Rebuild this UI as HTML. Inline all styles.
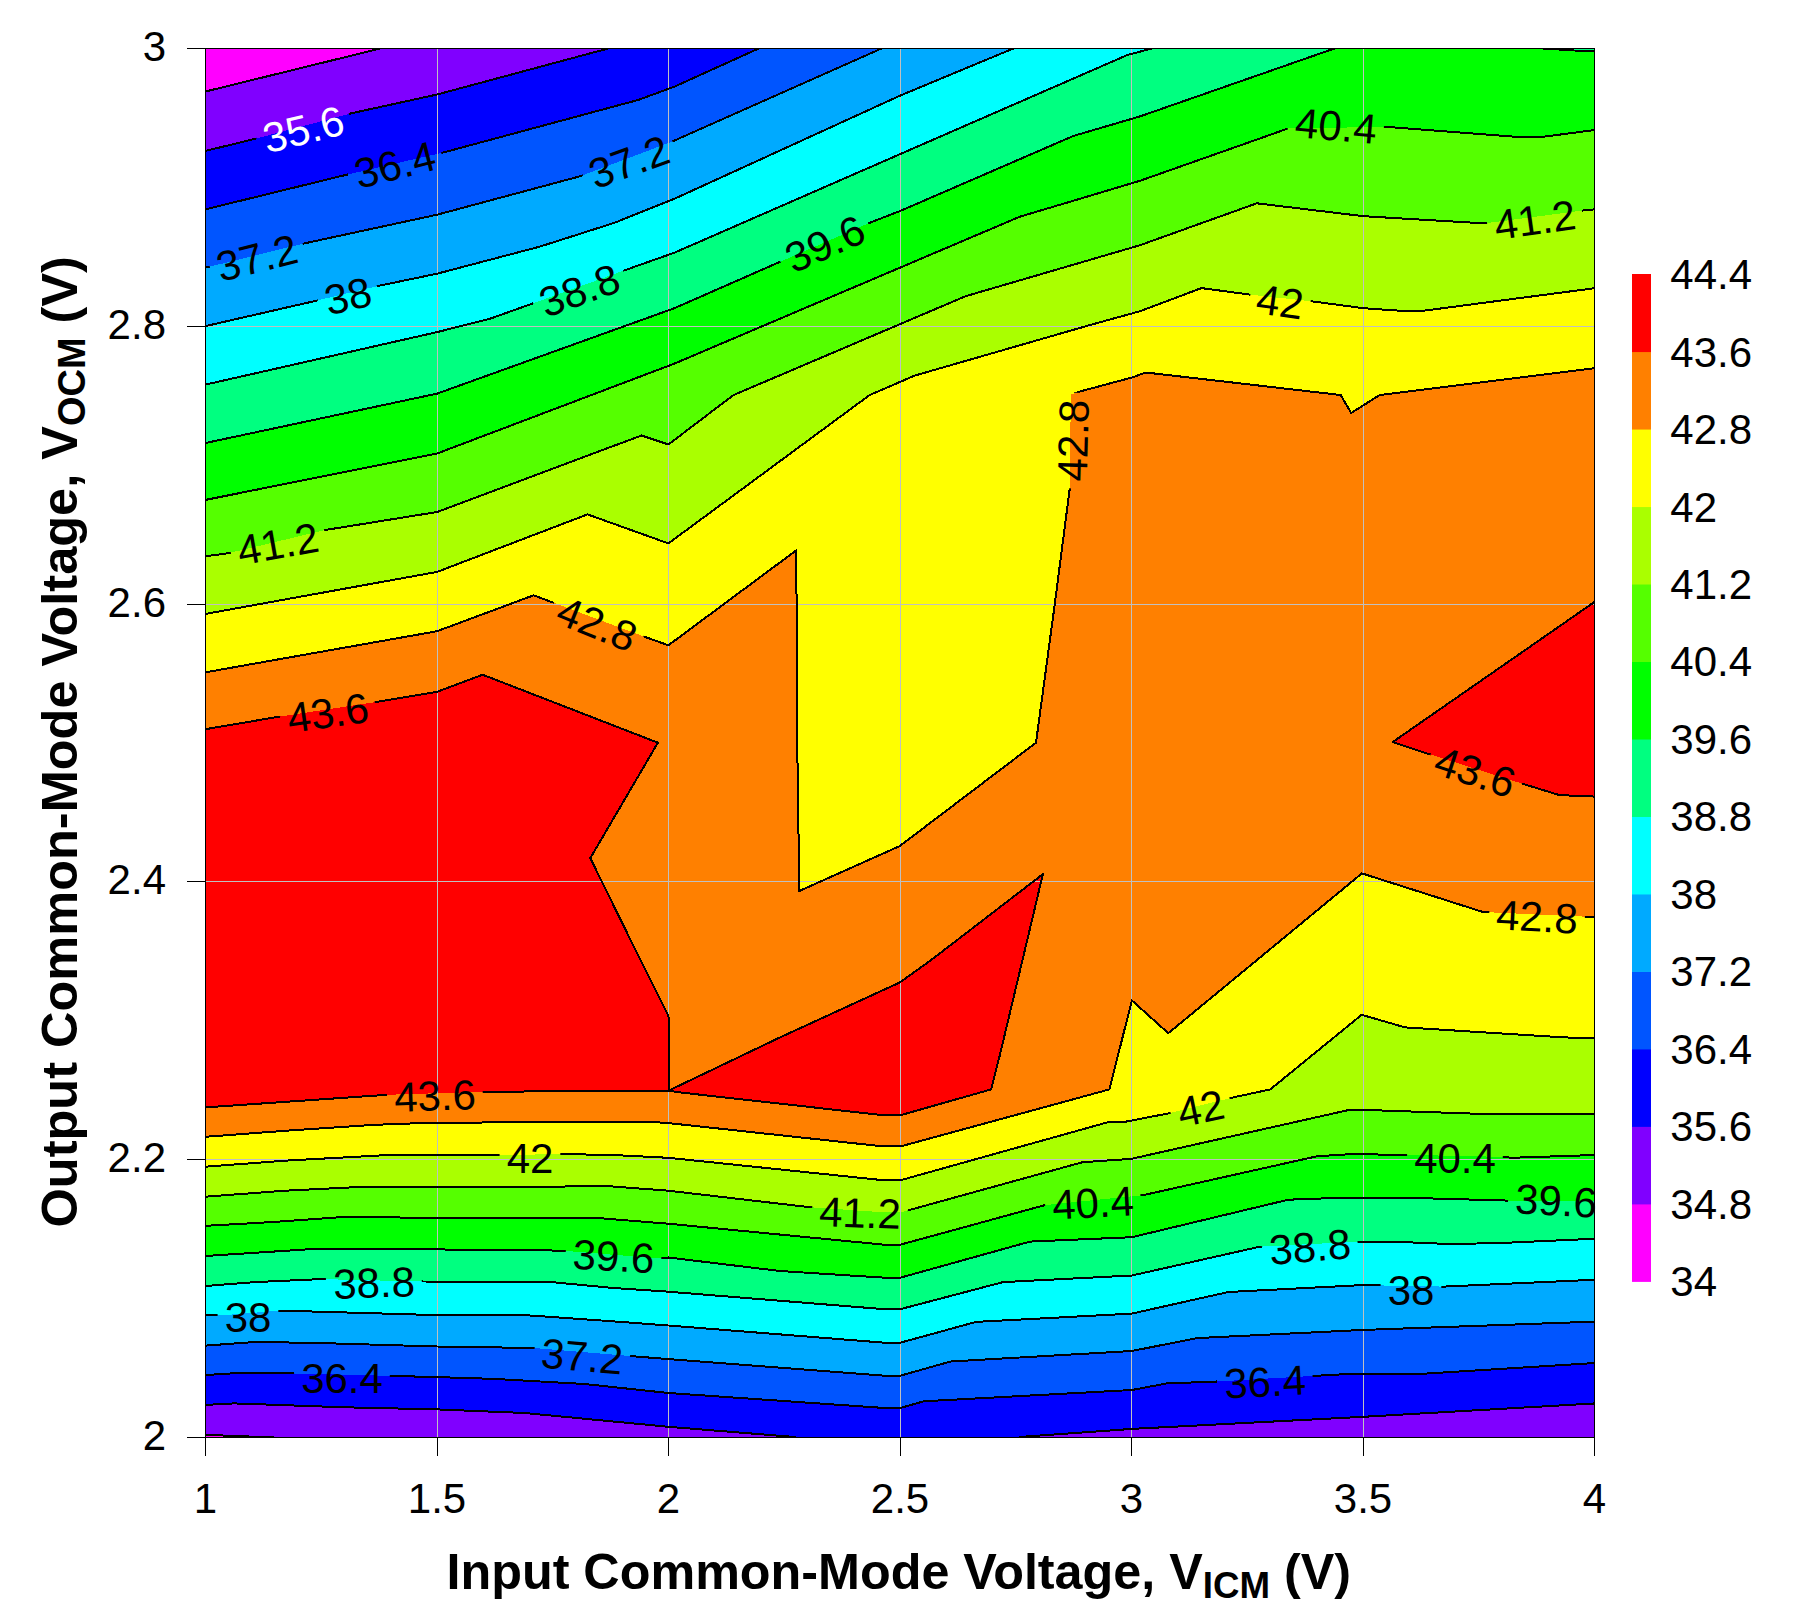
<!DOCTYPE html><html><head><meta charset="utf-8"><style>html,body{margin:0;padding:0;background:#fff;}svg{display:block;}text{font-family:"Liberation Sans",Arial,sans-serif;}</style></head><body>
<svg width="1818" height="1602" viewBox="0 0 1818 1602">
<defs><clipPath id="pc"><rect x="205.5" y="48.5" width="1389.0" height="1389.0"/></clipPath>
<mask id="lm" maskUnits="userSpaceOnUse" x="0" y="0" width="1818" height="1602">
<rect x="0" y="0" width="1818" height="1602" fill="#fff"/>
<rect x="255.6" y="112.7" width="95.7" height="33.6" fill="#000" transform="rotate(-14.0 303.5 129.5)"/>
<rect x="347.1" y="148.2" width="95.7" height="33.6" fill="#000" transform="rotate(-14.0 395.0 165.0)"/>
<rect x="581.1" y="145.2" width="95.7" height="33.6" fill="#000" transform="rotate(-20.0 629.0 162.0)"/>
<rect x="209.1" y="241.2" width="95.7" height="33.6" fill="#000" transform="rotate(-14.0 257.0 258.0)"/>
<rect x="317.6" y="279.2" width="60.7" height="33.6" fill="#000" transform="rotate(-13.0 348.0 296.0)"/>
<rect x="531.6" y="273.7" width="95.7" height="33.6" fill="#000" transform="rotate(-20.0 579.5 290.5)"/>
<rect x="777.1" y="227.2" width="95.7" height="33.6" fill="#000" transform="rotate(-24.0 825.0 244.0)"/>
<rect x="1288.1" y="109.2" width="95.7" height="33.6" fill="#000" transform="rotate(5.0 1336.0 126.0)"/>
<rect x="1487.1" y="203.2" width="95.7" height="33.6" fill="#000" transform="rotate(-8.0 1535.0 220.0)"/>
<rect x="1249.6" y="285.2" width="60.7" height="33.6" fill="#000" transform="rotate(8.0 1280.0 302.0)"/>
<rect x="230.1" y="527.2" width="95.7" height="33.6" fill="#000" transform="rotate(-10.0 278.0 544.0)"/>
<rect x="1025.4" y="423.7" width="95.7" height="33.6" fill="#000" transform="rotate(-88.5 1073.3 440.5)"/>
<rect x="549.1" y="607.2" width="95.7" height="33.6" fill="#000" transform="rotate(22.0 597.0 624.0)"/>
<rect x="280.1" y="696.2" width="95.7" height="33.6" fill="#000" transform="rotate(-8.0 328.0 713.0)"/>
<rect x="1427.3" y="755.2" width="95.7" height="33.6" fill="#000" transform="rotate(18.0 1475.2 772.0)"/>
<rect x="1489.1" y="900.2" width="95.7" height="33.6" fill="#000" transform="rotate(3.0 1537.0 917.0)"/>
<rect x="387.1" y="1079.2" width="95.7" height="33.6" fill="#000" transform="rotate(-2.0 435.0 1096.0)"/>
<rect x="1170.4" y="1091.7" width="60.7" height="33.6" fill="#000" transform="rotate(-12.0 1200.8 1108.5)"/>
<rect x="499.6" y="1141.2" width="60.7" height="33.6" fill="#000" transform="rotate(0.0 530.0 1158.0)"/>
<rect x="1407.1" y="1141.2" width="95.7" height="33.6" fill="#000" transform="rotate(0.0 1455.0 1158.0)"/>
<rect x="812.1" y="1196.2" width="95.7" height="33.6" fill="#000" transform="rotate(2.0 860.0 1213.0)"/>
<rect x="1045.1" y="1186.2" width="95.7" height="33.6" fill="#000" transform="rotate(-3.0 1093.0 1203.0)"/>
<rect x="1508.1" y="1184.2" width="95.7" height="33.6" fill="#000" transform="rotate(3.0 1556.0 1201.0)"/>
<rect x="565.6" y="1239.7" width="95.7" height="33.6" fill="#000" transform="rotate(3.0 613.5 1256.5)"/>
<rect x="1262.1" y="1230.2" width="95.7" height="33.6" fill="#000" transform="rotate(-5.0 1310.0 1247.0)"/>
<rect x="326.1" y="1266.2" width="95.7" height="33.6" fill="#000" transform="rotate(-2.0 374.0 1283.0)"/>
<rect x="217.6" y="1300.2" width="60.7" height="33.6" fill="#000" transform="rotate(0.0 248.0 1317.0)"/>
<rect x="1380.6" y="1273.2" width="60.7" height="33.6" fill="#000" transform="rotate(0.0 1411.0 1290.0)"/>
<rect x="534.1" y="1339.7" width="95.7" height="33.6" fill="#000" transform="rotate(5.0 582.0 1356.5)"/>
<rect x="294.1" y="1361.2" width="95.7" height="33.6" fill="#000" transform="rotate(0.0 342.0 1378.0)"/>
<rect x="1217.1" y="1365.2" width="95.7" height="33.6" fill="#000" transform="rotate(-3.0 1265.0 1382.0)"/>
</mask></defs>
<g clip-path="url(#pc)" shape-rendering="crispEdges">
<rect x="205.5" y="48.5" width="1389.0" height="1389.0" fill="#FF00FF"/>
<polygon points="195.5,1434.9 205.5,1434.9 231.0,1435.8 275.9,1437.6 276.0,1445.0 1600.0,1445.0 1604.5,1445.0 1604.5,40.0 1600.0,40.0 384.0,40.0 380.8,48.4 205.5,91.5 195.5,91.5" fill="#8000FF"/>
<polygon points="195.5,1404.9 205.5,1404.9 234.0,1403.4 344.8,1407.3 437.1,1409.4 524.6,1413.0 668.4,1426.8 794.8,1437.0 795.0,1445.0 1019.0,1445.0 1019.6,1437.0 1131.9,1428.9 1361.7,1416.9 1595.4,1403.4 1604.5,1403.4 1604.5,40.0 1600.0,40.0 609.0,40.0 608.5,48.4 437.1,94.5 350.8,113.4 254.9,138.9 205.5,150.9 195.5,150.9" fill="#0000FF"/>
<polygon points="195.5,1375.0 205.5,1375.0 239.9,1372.9 293.9,1373.5 391.3,1375.9 437.1,1377.1 494.6,1378.9 584.5,1384.0 668.4,1393.0 883.2,1407.9 900.6,1407.9 923.7,1401.3 1131.9,1390.0 1166.9,1383.4 1214.9,1381.6 1313.8,1375.9 1346.7,1374.1 1417.1,1374.1 1595.4,1363.0 1604.5,1363.0 1604.5,40.0 1600.0,40.0 759.0,40.0 758.9,48.4 675.0,86.4 638.4,99.9 443.7,152.4 346.3,174.8 205.5,209.3 195.5,209.3" fill="#0055FF"/>
<polygon points="195.5,1345.6 205.5,1345.6 254.9,1342.0 314.9,1342.9 437.1,1346.5 533.6,1348.0 631.0,1356.1 668.4,1359.1 883.2,1375.6 900.6,1375.6 950.6,1361.5 1131.9,1351.0 1196.9,1338.1 1361.7,1330.0 1595.4,1321.6 1604.5,1321.6 1604.5,40.0 1600.0,40.0 882.0,40.0 881.7,48.4 671.4,141.9 580.0,176.3 437.1,214.7 302.9,243.7 205.5,267.7 195.5,267.7" fill="#00AAFF"/>
<polygon points="195.5,1315.1 205.5,1315.1 225.0,1315.1 280.4,1310.6 437.1,1315.1 524.6,1315.1 608.5,1321.0 668.4,1325.5 883.2,1342.6 900.6,1342.6 976.1,1321.9 1131.9,1313.6 1228.4,1292.0 1361.7,1285.1 1444.1,1286.6 1595.4,1279.7 1604.5,1279.7 1604.5,40.0 1600.0,40.0 1014.0,40.0 1013.6,48.4 900.6,95.4 674.4,198.8 614.5,222.8 539.6,246.7 437.1,273.7 379.3,285.7 316.3,300.7 205.5,326.1 195.5,326.1" fill="#00FFFF"/>
<polygon points="195.5,1286.0 205.5,1286.0 254.9,1282.1 320.8,1279.1 422.7,1281.5 551.6,1282.1 614.5,1288.1 668.4,1291.7 883.2,1309.1 900.6,1309.1 1003.1,1282.1 1131.9,1275.5 1259.8,1246.7 1358.7,1241.6 1405.1,1242.2 1448.6,1244.0 1499.5,1243.1 1595.4,1238.7 1604.5,1238.7 1604.5,40.0 1600.0,40.0 1152.0,40.0 1152.0,48.4 1127.4,55.0 900.6,153.9 674.4,252.7 623.5,270.7 532.1,303.7 490.1,318.7 437.1,332.1 205.5,384.6 195.5,384.6" fill="#00FF80"/>
<polygon points="195.5,1256.0 205.5,1256.0 320.8,1248.5 401.7,1249.1 562.0,1250.6 654.9,1258.1 668.4,1257.5 779.9,1271.0 883.2,1277.6 900.6,1277.6 1030.0,1241.6 1131.9,1237.2 1288.3,1199.7 1346.7,1197.6 1400.7,1197.6 1508.5,1200.6 1595.4,1201.2 1604.5,1201.2 1604.5,51.4 1595.4,51.4 1574.4,50.5 1541.5,48.4 1541.0,40.0 1335.0,40.0 1334.7,48.4 1140.0,116.4 1073.5,135.9 900.6,210.8 869.7,222.8 776.9,263.2 674.4,308.2 437.1,393.6 205.5,443.0 195.5,443.0" fill="#00FF00"/>
<polygon points="195.5,1225.8 205.5,1225.8 269.9,1222.2 341.8,1217.1 380.8,1217.1 437.1,1218.3 509.6,1217.7 593.5,1217.7 668.4,1223.7 883.2,1244.6 900.6,1244.6 1045.0,1205.1 1143.0,1195.2 1316.8,1156.3 1349.7,1154.2 1405.1,1154.8 1504.0,1156.9 1511.5,1157.8 1583.4,1155.4 1595.4,1155.4 1604.5,1155.4 1604.5,129.9 1595.4,129.9 1538.5,137.4 1523.5,137.4 1387.2,126.9 1288.3,128.4 1140.0,180.8 1019.6,216.8 674.4,363.6 437.1,453.5 205.5,499.9 195.5,499.9" fill="#55FF00"/>
<polygon points="195.5,1196.7 205.5,1196.7 284.9,1190.7 362.8,1186.8 437.1,1186.8 524.6,1186.8 608.5,1186.2 668.4,1190.7 809.8,1207.2 883.2,1212.3 900.6,1212.3 908.7,1210.2 1082.5,1162.2 1131.0,1158.9 1349.7,1109.8 1361.7,1109.8 1405.1,1111.3 1493.5,1114.3 1595.4,1114.3 1604.5,1114.3 1604.5,209.3 1595.4,209.3 1584.9,210.2 1484.6,223.4 1363.5,216.2 1256.8,203.3 1140.0,245.2 965.6,296.2 733.4,395.1 668.4,444.5 641.4,435.5 437.1,512.0 325.3,530.0 228.0,553.3 205.5,556.3 195.5,556.3" fill="#AAFF00"/>
<polygon points="195.5,1166.7 205.5,1166.7 284.9,1160.7 380.8,1155.4 496.1,1155.4 562.0,1153.9 620.5,1155.4 668.4,1157.8 883.2,1180.2 900.6,1180.2 1109.4,1121.8 1125.0,1121.8 1168.4,1113.4 1231.4,1097.8 1270.3,1089.4 1361.7,1014.8 1405.1,1027.4 1562.5,1037.3 1595.4,1038.5 1604.5,1038.5 1604.5,288.1 1595.4,288.1 1424.6,310.6 1406.6,311.2 1363.5,308.2 1313.8,301.6 1250.8,294.7 1201.4,288.1 1140.0,311.2 1091.5,324.6 914.7,375.6 869.7,395.0 668.4,543.4 587.5,514.4 437.1,571.9 205.5,613.9 195.5,613.9" fill="#FFFF00"/>
<polygon points="195.5,1136.8 205.5,1136.8 284.9,1130.8 374.8,1124.8 415.2,1123.3 542.6,1121.8 653.4,1122.4 657.4,1122.3 668.6,1123.1 883.2,1146.4 900.6,1146.4 1109.4,1089.4 1131.9,1000.4 1168.3,1033.2 1361.9,873.4 1483.0,912.0 1595.4,917.1 1604.5,917.1 1604.5,368.1 1595.4,368.1 1379.7,395.0 1351.2,413.0 1340.7,395.0 1145.8,372.5 1132.0,377.5 1080.9,391.2 1070.9,394.4 1069.6,489.8 1054.7,604.7 1036.0,742.7 899.7,846.1 799.3,891.0 797.2,739.7 796.3,550.3 668.4,645.3 647.4,637.8 533.6,595.3 437.1,631.2 205.5,672.3 195.5,672.3" fill="#FF8000"/>
<polygon points="205.5,729.2 275.9,717.2 374.8,702.2 437.1,691.8 482.6,674.7 657.9,742.7 590.3,858.1 635.5,950.0 630.6,940.0 668.0,1014.9 668.9,1018.0 668.9,1090.5 482.6,1091.8 386.8,1094.8 205.5,1107.4" fill="#FF0000"/>
<polygon points="668.9,1090.5 780.0,1037.4 899.7,982.5 931.2,960.0 1042.9,874.1 1022.5,960.0 1000.0,1054.5 991.1,1089.4 900.6,1115.2 883.2,1115.2 676.1,1092.0" fill="#FF0000"/>
<polygon points="1595.4,601.3 1392.6,742.1 1429.1,754.1 1520.5,783.1 1559.5,795.1 1595.4,796.6" fill="#FF0000"/>
<line x1="437.5" y1="48.5" x2="437.5" y2="1437.5" stroke="#C0C0C0" stroke-width="1"/>
<line x1="668.5" y1="48.5" x2="668.5" y2="1437.5" stroke="#C0C0C0" stroke-width="1"/>
<line x1="900.5" y1="48.5" x2="900.5" y2="1437.5" stroke="#C0C0C0" stroke-width="1"/>
<line x1="1131.5" y1="48.5" x2="1131.5" y2="1437.5" stroke="#C0C0C0" stroke-width="1"/>
<line x1="1363.5" y1="48.5" x2="1363.5" y2="1437.5" stroke="#C0C0C0" stroke-width="1"/>
<line x1="205.5" y1="326.5" x2="1594.5" y2="326.5" stroke="#C0C0C0" stroke-width="1"/>
<line x1="205.5" y1="604.5" x2="1594.5" y2="604.5" stroke="#C0C0C0" stroke-width="1"/>
<line x1="205.5" y1="881.5" x2="1594.5" y2="881.5" stroke="#C0C0C0" stroke-width="1"/>
<line x1="205.5" y1="1159.5" x2="1594.5" y2="1159.5" stroke="#C0C0C0" stroke-width="1"/>
<g mask="url(#lm)" fill="none" stroke="#000" stroke-width="2" stroke-linejoin="round" shape-rendering="crispEdges">
<polyline points="195.5,91.5 205.5,91.5 380.8,48.4 384.0,40.0 1600.0,40.0 1604.5,40.0"/>
<polyline points="195.5,1434.9 205.5,1434.9 231.0,1435.8 275.9,1437.6 276.0,1445.0 1600.0,1445.0 1604.5,1445.0"/>
<polyline points="195.5,150.9 205.5,150.9 254.9,138.9 350.8,113.4 437.1,94.5 608.5,48.4 609.0,40.0 1600.0,40.0 1604.5,40.0"/>
<polyline points="195.5,1404.9 205.5,1404.9 234.0,1403.4 344.8,1407.3 437.1,1409.4 524.6,1413.0 668.4,1426.8 794.8,1437.0 795.0,1445.0 1019.0,1445.0 1019.6,1437.0 1131.9,1428.9 1361.7,1416.9 1595.4,1403.4 1604.5,1403.4"/>
<polyline points="195.5,209.3 205.5,209.3 346.3,174.8 443.7,152.4 638.4,99.9 675.0,86.4 758.9,48.4 759.0,40.0 1600.0,40.0 1604.5,40.0"/>
<polyline points="195.5,1375.0 205.5,1375.0 239.9,1372.9 293.9,1373.5 391.3,1375.9 437.1,1377.1 494.6,1378.9 584.5,1384.0 668.4,1393.0 883.2,1407.9 900.6,1407.9 923.7,1401.3 1131.9,1390.0 1166.9,1383.4 1214.9,1381.6 1313.8,1375.9 1346.7,1374.1 1417.1,1374.1 1595.4,1363.0 1604.5,1363.0"/>
<polyline points="195.5,267.7 205.5,267.7 302.9,243.7 437.1,214.7 580.0,176.3 671.4,141.9 881.7,48.4 882.0,40.0 1600.0,40.0 1604.5,40.0"/>
<polyline points="195.5,1345.6 205.5,1345.6 254.9,1342.0 314.9,1342.9 437.1,1346.5 533.6,1348.0 631.0,1356.1 668.4,1359.1 883.2,1375.6 900.6,1375.6 950.6,1361.5 1131.9,1351.0 1196.9,1338.1 1361.7,1330.0 1595.4,1321.6 1604.5,1321.6"/>
<polyline points="195.5,326.1 205.5,326.1 316.3,300.7 379.3,285.7 437.1,273.7 539.6,246.7 614.5,222.8 674.4,198.8 900.6,95.4 1013.6,48.4 1014.0,40.0 1600.0,40.0 1604.5,40.0"/>
<polyline points="195.5,1315.1 205.5,1315.1 225.0,1315.1 280.4,1310.6 437.1,1315.1 524.6,1315.1 608.5,1321.0 668.4,1325.5 883.2,1342.6 900.6,1342.6 976.1,1321.9 1131.9,1313.6 1228.4,1292.0 1361.7,1285.1 1444.1,1286.6 1595.4,1279.7 1604.5,1279.7"/>
<polyline points="195.5,384.6 205.5,384.6 437.1,332.1 490.1,318.7 532.1,303.7 623.5,270.7 674.4,252.7 900.6,153.9 1127.4,55.0 1152.0,48.4 1152.0,40.0 1600.0,40.0 1604.5,40.0"/>
<polyline points="195.5,1286.0 205.5,1286.0 254.9,1282.1 320.8,1279.1 422.7,1281.5 551.6,1282.1 614.5,1288.1 668.4,1291.7 883.2,1309.1 900.6,1309.1 1003.1,1282.1 1131.9,1275.5 1259.8,1246.7 1358.7,1241.6 1405.1,1242.2 1448.6,1244.0 1499.5,1243.1 1595.4,1238.7 1604.5,1238.7"/>
<polyline points="195.5,443.0 205.5,443.0 437.1,393.6 674.4,308.2 776.9,263.2 869.7,222.8 900.6,210.8 1073.5,135.9 1140.0,116.4 1334.7,48.4 1335.0,40.0 1541.0,40.0 1541.5,48.4 1574.4,50.5 1595.4,51.4 1604.5,51.4"/>
<polyline points="195.5,1256.0 205.5,1256.0 320.8,1248.5 401.7,1249.1 562.0,1250.6 654.9,1258.1 668.4,1257.5 779.9,1271.0 883.2,1277.6 900.6,1277.6 1030.0,1241.6 1131.9,1237.2 1288.3,1199.7 1346.7,1197.6 1400.7,1197.6 1508.5,1200.6 1595.4,1201.2 1604.5,1201.2"/>
<polyline points="195.5,499.9 205.5,499.9 437.1,453.5 674.4,363.6 1019.6,216.8 1140.0,180.8 1288.3,128.4 1387.2,126.9 1523.5,137.4 1538.5,137.4 1595.4,129.9 1604.5,129.9"/>
<polyline points="195.5,1225.8 205.5,1225.8 269.9,1222.2 341.8,1217.1 380.8,1217.1 437.1,1218.3 509.6,1217.7 593.5,1217.7 668.4,1223.7 883.2,1244.6 900.6,1244.6 1045.0,1205.1 1143.0,1195.2 1316.8,1156.3 1349.7,1154.2 1405.1,1154.8 1504.0,1156.9 1511.5,1157.8 1583.4,1155.4 1595.4,1155.4 1604.5,1155.4"/>
<polyline points="195.5,556.3 205.5,556.3 228.0,553.3 325.3,530.0 437.1,512.0 641.4,435.5 668.4,444.5 733.4,395.1 965.6,296.2 1140.0,245.2 1256.8,203.3 1363.5,216.2 1484.6,223.4 1584.9,210.2 1595.4,209.3 1604.5,209.3"/>
<polyline points="195.5,1196.7 205.5,1196.7 284.9,1190.7 362.8,1186.8 437.1,1186.8 524.6,1186.8 608.5,1186.2 668.4,1190.7 809.8,1207.2 883.2,1212.3 900.6,1212.3 908.7,1210.2 1082.5,1162.2 1131.0,1158.9 1349.7,1109.8 1361.7,1109.8 1405.1,1111.3 1493.5,1114.3 1595.4,1114.3 1604.5,1114.3"/>
<polyline points="195.5,613.9 205.5,613.9 437.1,571.9 587.5,514.4 668.4,543.4 869.7,395.0 914.7,375.6 1091.5,324.6 1140.0,311.2 1201.4,288.1 1250.8,294.7 1313.8,301.6 1363.5,308.2 1406.6,311.2 1424.6,310.6 1595.4,288.1 1604.5,288.1"/>
<polyline points="195.5,1166.7 205.5,1166.7 284.9,1160.7 380.8,1155.4 496.1,1155.4 562.0,1153.9 620.5,1155.4 668.4,1157.8 883.2,1180.2 900.6,1180.2 1109.4,1121.8 1125.0,1121.8 1168.4,1113.4 1231.4,1097.8 1270.3,1089.4 1361.7,1014.8 1405.1,1027.4 1562.5,1037.3 1595.4,1038.5 1604.5,1038.5"/>
<polyline points="195.5,672.3 205.5,672.3 437.1,631.2 533.6,595.3 647.4,637.8 668.4,645.3 796.3,550.3 797.2,739.7 799.3,891.0 899.7,846.1 1036.0,742.7 1054.7,604.7 1069.6,489.8 1070.9,394.4 1080.9,391.2 1132.0,377.5 1145.8,372.5 1340.7,395.0 1351.2,413.0 1379.7,395.0 1595.4,368.1 1604.5,368.1"/>
<polyline points="195.5,1136.8 205.5,1136.8 284.9,1130.8 374.8,1124.8 415.2,1123.3 542.6,1121.8 653.4,1122.4 657.4,1122.3 668.6,1123.1 883.2,1146.4 900.6,1146.4 1109.4,1089.4 1131.9,1000.4 1168.3,1033.2 1361.9,873.4 1483.0,912.0 1595.4,917.1 1604.5,917.1"/>
<polyline points="205.5,729.2 275.9,717.2 374.8,702.2 437.1,691.8 482.6,674.7 657.9,742.7 590.3,858.1 635.5,950.0 630.6,940.0 668.0,1014.9 668.9,1018.0 668.9,1090.5 482.6,1091.8 386.8,1094.8 205.5,1107.4"/>
<polygon points="668.9,1090.5 780.0,1037.4 899.7,982.5 931.2,960.0 1042.9,874.1 1022.5,960.0 1000.0,1054.5 991.1,1089.4 900.6,1115.2 883.2,1115.2 676.1,1092.0"/>
<polyline points="1595.4,601.3 1392.6,742.1 1429.1,754.1 1520.5,783.1 1559.5,795.1 1595.4,796.6"/>
</g>
</g>
<text x="303.5" y="129.5" font-size="42.0" fill="#FFFFFF" text-anchor="middle" dominant-baseline="central" transform="rotate(-14.0 303.5 129.5)">35.6</text>
<text x="395.0" y="165.0" font-size="42.0" fill="#000" text-anchor="middle" dominant-baseline="central" transform="rotate(-14.0 395.0 165.0)">36.4</text>
<text x="629.0" y="162.0" font-size="42.0" fill="#000" text-anchor="middle" dominant-baseline="central" transform="rotate(-20.0 629.0 162.0)">37.2</text>
<text x="257.0" y="258.0" font-size="42.0" fill="#000" text-anchor="middle" dominant-baseline="central" transform="rotate(-14.0 257.0 258.0)">37.2</text>
<text x="348.0" y="296.0" font-size="42.0" fill="#000" text-anchor="middle" dominant-baseline="central" transform="rotate(-13.0 348.0 296.0)">38</text>
<text x="579.5" y="290.5" font-size="42.0" fill="#000" text-anchor="middle" dominant-baseline="central" transform="rotate(-20.0 579.5 290.5)">38.8</text>
<text x="825.0" y="244.0" font-size="42.0" fill="#000" text-anchor="middle" dominant-baseline="central" transform="rotate(-24.0 825.0 244.0)">39.6</text>
<text x="1336.0" y="126.0" font-size="42.0" fill="#000" text-anchor="middle" dominant-baseline="central" transform="rotate(5.0 1336.0 126.0)">40.4</text>
<text x="1535.0" y="220.0" font-size="42.0" fill="#000" text-anchor="middle" dominant-baseline="central" transform="rotate(-8.0 1535.0 220.0)">41.2</text>
<text x="1280.0" y="302.0" font-size="42.0" fill="#000" text-anchor="middle" dominant-baseline="central" transform="rotate(8.0 1280.0 302.0)">42</text>
<text x="278.0" y="544.0" font-size="42.0" fill="#000" text-anchor="middle" dominant-baseline="central" transform="rotate(-10.0 278.0 544.0)">41.2</text>
<text x="1073.3" y="440.5" font-size="42.0" fill="#000" text-anchor="middle" dominant-baseline="central" transform="rotate(-88.5 1073.3 440.5)">42.8</text>
<text x="597.0" y="624.0" font-size="42.0" fill="#000" text-anchor="middle" dominant-baseline="central" transform="rotate(22.0 597.0 624.0)">42.8</text>
<text x="328.0" y="713.0" font-size="42.0" fill="#000" text-anchor="middle" dominant-baseline="central" transform="rotate(-8.0 328.0 713.0)">43.6</text>
<text x="1475.2" y="772.0" font-size="42.0" fill="#000" text-anchor="middle" dominant-baseline="central" transform="rotate(18.0 1475.2 772.0)">43.6</text>
<text x="1537.0" y="917.0" font-size="42.0" fill="#000" text-anchor="middle" dominant-baseline="central" transform="rotate(3.0 1537.0 917.0)">42.8</text>
<text x="435.0" y="1096.0" font-size="42.0" fill="#000" text-anchor="middle" dominant-baseline="central" transform="rotate(-2.0 435.0 1096.0)">43.6</text>
<text x="1200.8" y="1108.5" font-size="42.0" fill="#000" text-anchor="middle" dominant-baseline="central" transform="rotate(-12.0 1200.8 1108.5)">42</text>
<text x="530.0" y="1158.0" font-size="42.0" fill="#000" text-anchor="middle" dominant-baseline="central" transform="rotate(0.0 530.0 1158.0)">42</text>
<text x="1455.0" y="1158.0" font-size="42.0" fill="#000" text-anchor="middle" dominant-baseline="central" transform="rotate(0.0 1455.0 1158.0)">40.4</text>
<text x="860.0" y="1213.0" font-size="42.0" fill="#000" text-anchor="middle" dominant-baseline="central" transform="rotate(2.0 860.0 1213.0)">41.2</text>
<text x="1093.0" y="1203.0" font-size="42.0" fill="#000" text-anchor="middle" dominant-baseline="central" transform="rotate(-3.0 1093.0 1203.0)">40.4</text>
<text x="1556.0" y="1201.0" font-size="42.0" fill="#000" text-anchor="middle" dominant-baseline="central" transform="rotate(3.0 1556.0 1201.0)">39.6</text>
<text x="613.5" y="1256.5" font-size="42.0" fill="#000" text-anchor="middle" dominant-baseline="central" transform="rotate(3.0 613.5 1256.5)">39.6</text>
<text x="1310.0" y="1247.0" font-size="42.0" fill="#000" text-anchor="middle" dominant-baseline="central" transform="rotate(-5.0 1310.0 1247.0)">38.8</text>
<text x="374.0" y="1283.0" font-size="42.0" fill="#000" text-anchor="middle" dominant-baseline="central" transform="rotate(-2.0 374.0 1283.0)">38.8</text>
<text x="248.0" y="1317.0" font-size="42.0" fill="#000" text-anchor="middle" dominant-baseline="central" transform="rotate(0.0 248.0 1317.0)">38</text>
<text x="1411.0" y="1290.0" font-size="42.0" fill="#000" text-anchor="middle" dominant-baseline="central" transform="rotate(0.0 1411.0 1290.0)">38</text>
<text x="582.0" y="1356.5" font-size="42.0" fill="#000" text-anchor="middle" dominant-baseline="central" transform="rotate(5.0 582.0 1356.5)">37.2</text>
<text x="342.0" y="1378.0" font-size="42.0" fill="#000" text-anchor="middle" dominant-baseline="central" transform="rotate(0.0 342.0 1378.0)">36.4</text>
<text x="1265.0" y="1382.0" font-size="42.0" fill="#000" text-anchor="middle" dominant-baseline="central" transform="rotate(-3.0 1265.0 1382.0)">36.4</text>
<rect x="205.5" y="48.5" width="1389.0" height="1389.0" fill="none" stroke="#000" stroke-width="1"/>
<line x1="205.5" y1="1437.5" x2="205.5" y2="1456.0" stroke="#000" stroke-width="1"/>
<line x1="437.5" y1="1437.5" x2="437.5" y2="1456.0" stroke="#000" stroke-width="1"/>
<line x1="668.5" y1="1437.5" x2="668.5" y2="1456.0" stroke="#000" stroke-width="1"/>
<line x1="900.5" y1="1437.5" x2="900.5" y2="1456.0" stroke="#000" stroke-width="1"/>
<line x1="1131.5" y1="1437.5" x2="1131.5" y2="1456.0" stroke="#000" stroke-width="1"/>
<line x1="1363.5" y1="1437.5" x2="1363.5" y2="1456.0" stroke="#000" stroke-width="1"/>
<line x1="1594.5" y1="1437.5" x2="1594.5" y2="1456.0" stroke="#000" stroke-width="1"/>
<line x1="187.0" y1="48.5" x2="205.5" y2="48.5" stroke="#000" stroke-width="1"/>
<line x1="187.0" y1="326.5" x2="205.5" y2="326.5" stroke="#000" stroke-width="1"/>
<line x1="187.0" y1="604.5" x2="205.5" y2="604.5" stroke="#000" stroke-width="1"/>
<line x1="187.0" y1="881.5" x2="205.5" y2="881.5" stroke="#000" stroke-width="1"/>
<line x1="187.0" y1="1159.5" x2="205.5" y2="1159.5" stroke="#000" stroke-width="1"/>
<line x1="187.0" y1="1437.5" x2="205.5" y2="1437.5" stroke="#000" stroke-width="1"/>
<text x="205.5" y="1512.5" font-size="42" text-anchor="middle">1</text>
<text x="437.0" y="1512.5" font-size="42" text-anchor="middle">1.5</text>
<text x="668.5" y="1512.5" font-size="42" text-anchor="middle">2</text>
<text x="900.0" y="1512.5" font-size="42" text-anchor="middle">2.5</text>
<text x="1131.5" y="1512.5" font-size="42" text-anchor="middle">3</text>
<text x="1363.0" y="1512.5" font-size="42" text-anchor="middle">3.5</text>
<text x="1594.5" y="1512.5" font-size="42" text-anchor="middle">4</text>
<text x="166.0" y="1450.0" font-size="42" text-anchor="end">2</text>
<text x="166.0" y="1172.2" font-size="42" text-anchor="end">2.2</text>
<text x="166.0" y="894.4" font-size="42" text-anchor="end">2.4</text>
<text x="166.0" y="616.6" font-size="42" text-anchor="end">2.6</text>
<text x="166.0" y="338.8" font-size="42" text-anchor="end">2.8</text>
<text x="166.0" y="61.0" font-size="42" text-anchor="end">3</text>
<text x="446.5" y="1589.3" font-size="50.3" font-weight="bold">Input Common-Mode Voltage, V<tspan font-size="36.7" dy="8.7">ICM</tspan><tspan dy="-8.7"> (V)</tspan></text>
<text transform="translate(76.5 741.75) rotate(-90)" font-size="50.5" font-weight="bold" text-anchor="middle">Output Common-Mode Voltage, V<tspan font-size="38" dy="8.7">OCM</tspan><tspan dy="-8.7"> (V)</tspan></text>
<rect x="1632" y="1203.82" width="19" height="78.08" fill="#FF00FF"/>
<rect x="1632" y="1126.33" width="19" height="78.08" fill="#8000FF"/>
<rect x="1632" y="1048.85" width="19" height="78.08" fill="#0000FF"/>
<rect x="1632" y="971.36" width="19" height="78.08" fill="#0055FF"/>
<rect x="1632" y="893.88" width="19" height="78.08" fill="#00AAFF"/>
<rect x="1632" y="816.39" width="19" height="78.08" fill="#00FFFF"/>
<rect x="1632" y="738.91" width="19" height="78.08" fill="#00FF80"/>
<rect x="1632" y="661.42" width="19" height="78.08" fill="#00FF00"/>
<rect x="1632" y="583.94" width="19" height="78.08" fill="#55FF00"/>
<rect x="1632" y="506.45" width="19" height="78.08" fill="#AAFF00"/>
<rect x="1632" y="428.97" width="19" height="78.08" fill="#FFFF00"/>
<rect x="1632" y="351.48" width="19" height="78.08" fill="#FF8000"/>
<rect x="1632" y="274.00" width="19" height="78.08" fill="#FF0000"/>
<text x="1670.3" y="1296.3" font-size="42">34</text>
<text x="1670.3" y="1218.8" font-size="42">34.8</text>
<text x="1670.3" y="1141.3" font-size="42">35.6</text>
<text x="1670.3" y="1063.8" font-size="42">36.4</text>
<text x="1670.3" y="986.4" font-size="42">37.2</text>
<text x="1670.3" y="908.9" font-size="42">38</text>
<text x="1670.3" y="831.4" font-size="42">38.8</text>
<text x="1670.3" y="753.9" font-size="42">39.6</text>
<text x="1670.3" y="676.4" font-size="42">40.4</text>
<text x="1670.3" y="598.9" font-size="42">41.2</text>
<text x="1670.3" y="521.5" font-size="42">42</text>
<text x="1670.3" y="444.0" font-size="42">42.8</text>
<text x="1670.3" y="366.5" font-size="42">43.6</text>
<text x="1670.3" y="289.0" font-size="42">44.4</text>
</svg></body></html>
